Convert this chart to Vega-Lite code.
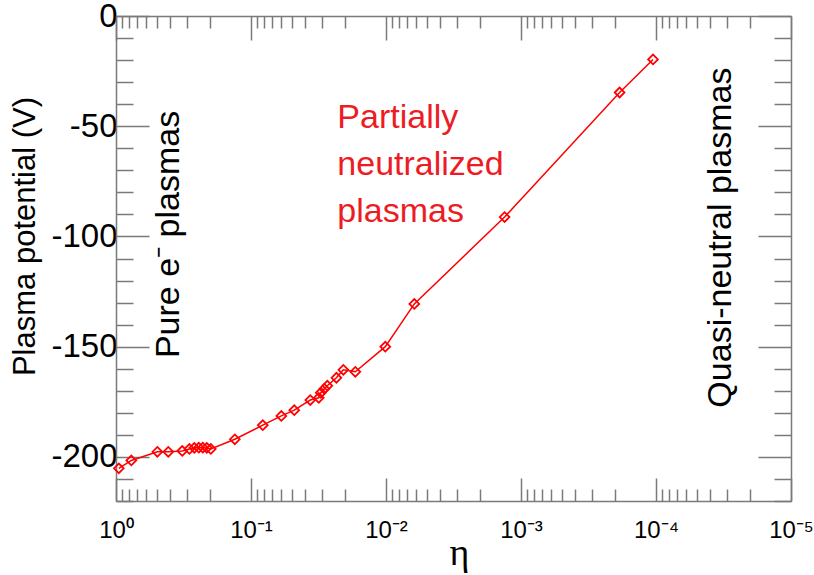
{
  "$schema": "https://vega.github.io/schema/vega-lite/v6.json",
  "width": 675,
  "height": 485,
  "autosize": {"type": "none"},
  "padding": {"left": 116, "top": 16, "right": 23, "bottom": 74},
  "background": "white",
  "config": {"view": {"stroke": null}, "font": "Liberation Sans"},
  "datasets": {
    "pts": [
      {"eta": 0.953, "V": -205.2},
      {"eta": 0.770, "V": -201.6},
      {"eta": 0.494, "V": -197.7},
      {"eta": 0.410, "V": -197.7},
      {"eta": 0.323, "V": -197.3},
      {"eta": 0.286, "V": -196.4},
      {"eta": 0.263, "V": -195.9},
      {"eta": 0.2435, "V": -195.8},
      {"eta": 0.2275, "V": -195.8},
      {"eta": 0.2125, "V": -195.9},
      {"eta": 0.1985, "V": -196.4},
      {"eta": 0.1318, "V": -192.0},
      {"eta": 0.0818, "V": -185.6},
      {"eta": 0.0596, "V": -181.4},
      {"eta": 0.0478, "V": -178.8},
      {"eta": 0.0364, "V": -174.2},
      {"eta": 0.0315, "V": -173.2},
      {"eta": 0.0304, "V": -170.9},
      {"eta": 0.0286, "V": -169.1},
      {"eta": 0.0272, "V": -167.7},
      {"eta": 0.0233, "V": -164.1},
      {"eta": 0.0207, "V": -160.5},
      {"eta": 0.01688, "V": -161.4},
      {"eta": 0.01012, "V": -150.0},
      {"eta": 0.00617, "V": -130.6},
      {"eta": 0.001323, "V": -91.2},
      {"eta": 0.000186, "V": -34.7},
      {"eta": 0.0001052, "V": -19.7}
    ]
  },
  "layer": [
    {
      "data": {"name": "pts"},
      "mark": {"type": "line", "color": "#ff0000", "strokeWidth": 1.5},
      "encoding": {
        "x": {
          "field": "eta", "type": "quantitative",
          "scale": {"type": "log", "domain": [0.00001, 1], "reverse": true, "nice": false},
          "axis": {
            "orient": "bottom",
            "values": [1, 0.9, 0.8, 0.7, 0.6, 0.5, 0.4, 0.3, 0.2, 0.1, 0.09, 0.08, 0.07, 0.06, 0.05, 0.04, 0.03, 0.02, 0.01, 0.009, 0.008, 0.007, 0.006, 0.005, 0.004, 0.003, 0.002, 0.001, 0.0009, 0.0008, 0.0007, 0.0006, 0.0005, 0.0004, 0.0003, 0.0002, 0.0001, 0.00009, 0.00008, 0.00007, 0.00006, 0.00005, 0.00004, 0.00003, 0.00002, 0.00001],
            "labelExpr": "datum.value == 1 ? '10⁰' : datum.value == 0.1 ? '10⁻¹' : datum.value == 0.01 ? '10⁻²' : datum.value == 0.001 ? '10⁻³' : datum.value == 0.0001 ? '10⁻⁴' : datum.value == 0.00001 ? '10⁻⁵' : ''",
            "tickSize": {"condition": {"test": "abs(log(datum.value)/LN10 - round(log(datum.value)/LN10)) < 0.000001", "value": -23}, "value": -12},
            "labelFont": "Liberation Sans", "labelFontSize": 24, "labelColor": "black",
            "labelPadding": 59, "labelBaseline": "alphabetic",
            "labelFlush": false, "labelOverlap": false,
            "domainColor": "#7a7a7a", "domainWidth": 1.5, "tickColor": "#7a7a7a", "tickWidth": 1.5,
            "grid": false,
            "title": "η", "titleFont": "Liberation Serif", "titleFontSize": 38, "titleFontWeight": "normal", "titleColor": "black",
            "titleX": 343, "titleY": 63, "titleBaseline": "alphabetic", "titleAlign": "center"
          }
        },
        "y": {
          "field": "V", "type": "quantitative",
          "scale": {"domain": [-220, 0], "nice": false, "zero": false},
          "axis": {
            "orient": "left",
            "values": [-220, -210, -200, -190, -180, -170, -160, -150, -140, -130, -120, -110, -100, -90, -80, -70, -60, -50, -40, -30, -20, -10, 0],
            "labelExpr": "datum.value % 50 == 0 ? '' + datum.value : ''",
            "tickSize": {"condition": {"test": "datum.value % 50 == 0", "value": -33}, "value": -17},
            "labelFont": "Liberation Sans", "labelFontSize": 33, "labelColor": "black",
            "labelPadding": 32, "labelBaseline": "middle",
            "labelFlush": false, "labelOverlap": false,
            "domainColor": "#7a7a7a", "domainWidth": 1.5, "tickColor": "#7a7a7a", "tickWidth": 1.5,
            "grid": false,
            "title": "Plasma potential (V)", "titleFont": "Liberation Sans", "titleFontSize": 31, "titleFontWeight": "normal", "titleColor": "black",
            "titleX": -82, "titleY": 220, "titleAngle": 270, "titleBaseline": "alphabetic", "titleAlign": "center"
          }
        }
      }
    },
    {
      "data": {"name": "pts"},
      "mark": {"type": "point", "shape": "diamond", "filled": false, "size": 95, "color": "#ff0000", "strokeWidth": 1.8, "opacity": 1},
      "encoding": {
        "x": {"field": "eta", "type": "quantitative", "scale": {"type": "log", "domain": [0.00001, 1], "reverse": true, "nice": false}, "axis": null},
        "y": {"field": "V", "type": "quantitative", "scale": {"domain": [-220, 0], "nice": false, "zero": false}, "axis": null}
      }
    },
    {
      "data": {"values": [{"eta": 0.3398, "V": -99.1, "label": "Pure e⁻ plasmas"}]},
      "mark": {"type": "text", "angle": 270, "align": "center", "baseline": "alphabetic", "font": "Liberation Sans", "fontSize": 34, "color": "black"},
      "encoding": {
        "x": {"field": "eta", "type": "quantitative", "axis": null},
        "y": {"field": "V", "type": "quantitative", "axis": null},
        "text": {"field": "label"}
      }
    },
    {
      "data": {"values": [{"eta": 0.02294, "V": -50.9, "label": "Partially\nneutralized\nplasmas"}]},
      "mark": {"type": "text", "align": "left", "baseline": "alphabetic", "font": "Liberation Sans", "fontSize": 34, "lineHeight": 47, "lineBreak": "\n", "color": "#ed1c24"},
      "encoding": {
        "x": {"field": "eta", "type": "quantitative", "axis": null},
        "y": {"field": "V", "type": "quantitative", "axis": null},
        "text": {"field": "label"}
      }
    },
    {
      "data": {"values": [{"eta": 0.00002768, "V": -100.5, "label": "Quasi-neutral plasmas"}]},
      "mark": {"type": "text", "angle": 270, "align": "center", "baseline": "alphabetic", "font": "Liberation Sans", "fontSize": 34, "color": "black"},
      "encoding": {
        "x": {"field": "eta", "type": "quantitative", "axis": null},
        "y": {"field": "V", "type": "quantitative", "axis": null},
        "text": {"field": "label"}
      }
    },
    {
      "data": {"name": "pts"},
      "mark": {"type": "point", "opacity": 0},
      "encoding": {
        "x": {
          "field": "eta", "type": "quantitative",
          "scale": {"type": "log", "domain": [0.00001, 1], "reverse": true, "nice": false},
          "axis": {
            "orient": "top",
            "values": [1, 0.9, 0.8, 0.7, 0.6, 0.5, 0.4, 0.3, 0.2, 0.1, 0.09, 0.08, 0.07, 0.06, 0.05, 0.04, 0.03, 0.02, 0.01, 0.009, 0.008, 0.007, 0.006, 0.005, 0.004, 0.003, 0.002, 0.001, 0.0009, 0.0008, 0.0007, 0.0006, 0.0005, 0.0004, 0.0003, 0.0002, 0.0001, 0.00009, 0.00008, 0.00007, 0.00006, 0.00005, 0.00004, 0.00003, 0.00002, 0.00001],
            "labels": false,
            "tickSize": {"condition": {"test": "abs(log(datum.value)/LN10 - round(log(datum.value)/LN10)) < 0.000001", "value": -24}, "value": -12},
            "domainColor": "#7a7a7a", "domainWidth": 1.5, "tickColor": "#7a7a7a", "tickWidth": 1.5,
            "grid": false, "title": null
          }
        },
        "y": {
          "field": "V", "type": "quantitative",
          "scale": {"domain": [-220, 0], "nice": false, "zero": false},
          "axis": {
            "orient": "right",
            "values": [-220, -210, -200, -190, -180, -170, -160, -150, -140, -130, -120, -110, -100, -90, -80, -70, -60, -50, -40, -30, -20, -10, 0],
            "labels": false,
            "tickSize": {"condition": {"test": "datum.value % 50 == 0", "value": -33}, "value": -17},
            "domainColor": "#7a7a7a", "domainWidth": 1.5, "tickColor": "#7a7a7a", "tickWidth": 1.5,
            "grid": false, "title": null
          }
        }
      }
    }
  ],
  "resolve": {"axis": {"x": "independent", "y": "independent"}}
}
